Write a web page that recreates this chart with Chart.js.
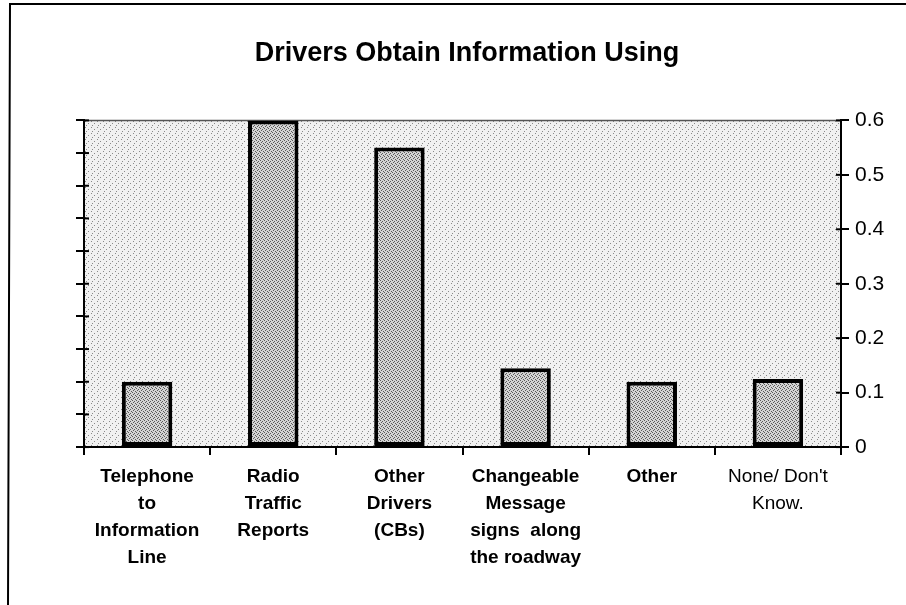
<!DOCTYPE html>
<html>
<head>
<meta charset="utf-8">
<script src="https://cdn.jsdelivr.net/npm/chart.js@4/dist/chart.umd.min.js"></script>
<style>
  html, body { margin: 0; background: #fff; }
  #wrap { width: 906px; height: 605px; }
</style>
</head>
<body>
<div id="wrap"><canvas id="chart" width="906" height="605"></canvas></div>
<script>
// chart data
const categories = [
  ['Telephone', 'to', 'Information', 'Line'],
  ['Radio', 'Traffic', 'Reports'],
  ['Other', 'Drivers', '(CBs)'],
  ['Changeable', 'Message', 'signs  along', 'the roadway'],
  ['Other'],
  ["None/ Don't", 'Know.']
];
const shares = [0.12, 0.6, 0.55, 0.145, 0.12, 0.125];
const axisMin = 0;
const axisMax = 0.6;
const rightStep = 0.1;   // labelled axis
const leftStep = 0.06;   // unlabelled tick marks only

const FONT = "'Liberation Sans', Arial, sans-serif";

// stipple tiles (fixed dot layout) to imitate the printed shading
function stipple(size, base, dot, dots) {
  const c = document.createElement('canvas');
  c.width = c.height = size;
  const g = c.getContext('2d');
  g.fillStyle = base;
  g.fillRect(0, 0, size, size);
  g.fillStyle = dot;
  dots.forEach(([x, y]) => g.fillRect(x, y, 1, 1));
  return g.createPattern(c, 'repeat');
}

const ctx = document.getElementById('chart').getContext('2d');
const plotFill = stipple(6, '#f1f1f1', '#8a8a8a', [[1, 1], [4, 3], [2, 5]]);
const barFill = stipple(4, '#d4d4d4', '#5a5a5a', [[0, 0], [2, 1], [1, 2], [3, 3]]);

// white page, outer frame and the shaded plot background
const backdrop = {
  id: 'backdrop',
  beforeDraw(chart) {
    const { ctx, chartArea: a } = chart;
    ctx.save();
    ctx.fillStyle = '#fff';
    ctx.fillRect(0, 0, chart.width, chart.height);
    ctx.strokeStyle = '#000';
    ctx.lineWidth = 2;
    ctx.beginPath();
    ctx.moveTo(8, 605);
    ctx.lineTo(10, 4);
    ctx.lineTo(906, 4);
    ctx.stroke();
    ctx.fillStyle = plotFill;
    ctx.fillRect(a.left, a.top, a.right - a.left, a.bottom - a.top);
    ctx.strokeStyle = '#555';
    ctx.lineWidth = 1.5;
    ctx.beginPath();
    ctx.moveTo(a.left, a.top);
    ctx.lineTo(a.right, a.top);
    ctx.stroke();
    ctx.restore();
  },
  // inner half of the crossing tick marks on both value axes
  afterDraw(chart) {
    const { ctx } = chart;
    ctx.save();
    ctx.strokeStyle = '#000';
    ctx.lineWidth = 2;
    ['yLeft', 'yRight'].forEach(id => {
      const s = chart.scales[id];
      const x = id === 'yLeft' ? s.right : s.left;
      const dir = id === 'yLeft' ? 1 : -1;
      s.ticks.forEach(t => {
        const y = s.getPixelForValue(t.value);
        ctx.beginPath();
        ctx.moveTo(x, y);
        ctx.lineTo(x + dir * 5, y);
        ctx.stroke();
      });
    });
    ctx.restore();
  }
};

new Chart(ctx, {
  type: 'bar',
  data: {
    labels: categories,
    datasets: [{
      data: shares,
      backgroundColor: barFill,
      borderColor: '#000',
      borderWidth: 4,
      borderSkipped: false,
      barPercentage: 0.4,
      categoryPercentage: 1,
      yAxisID: 'yRight'
    }]
  },
  options: {
    responsive: false,
    animation: false,
    layout: { padding: { left: 43, right: 15, top: 0, bottom: 26 } },
    plugins: {
      legend: { display: false },
      tooltip: { enabled: false },
      title: {
        display: true,
        text: 'Drivers Obtain Information Using',
        color: '#000',
        font: { family: FONT, size: 27, weight: 'bold' },
        padding: { top: 37, bottom: 51 }
      }
    },
    scales: {
      x: {
        grid: { offset: true, drawOnChartArea: false, color: '#000', lineWidth: 2, tickLength: 8 },
        border: { color: '#000', width: 2 },
        ticks: {
          color: '#000',
          maxRotation: 0,
          autoSkip: false,
          padding: 8,
          font: c => ({ family: FONT, size: 19, weight: c.index === 5 ? 'normal' : 'bold', lineHeight: 1.42 })
        }
      },
      yLeft: {
        position: 'left',
        min: axisMin,
        max: axisMax,
        ticks: { stepSize: leftStep, display: false },
        grid: { drawOnChartArea: false, color: '#000', lineWidth: 2, tickLength: 8 },
        border: { color: '#000', width: 2 },
        afterFit(s) { s.width = 41; }
      },
      yRight: {
        position: 'right',
        min: axisMin,
        max: axisMax,
        ticks: { stepSize: rightStep, color: '#000', padding: 6, font: { family: FONT, size: 21 } },
        grid: { drawOnChartArea: false, color: '#000', lineWidth: 2, tickLength: 8 },
        border: { color: '#000', width: 2 },
        afterFit(s) { s.width = 50; }
      }
    }
  },
  plugins: [backdrop]
});
</script>
</body>
</html>
